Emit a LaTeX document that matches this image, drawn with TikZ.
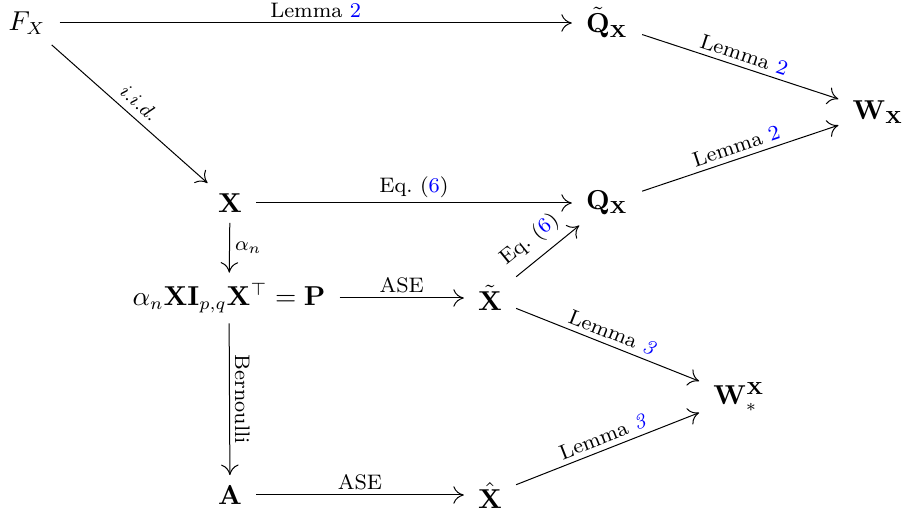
\documentclass[tikz,border=0pt]{standalone}
\usetikzlibrary{arrows.meta}
\begin{document}
\begin{tikzpicture}[x=0.4pt,y=-0.4pt,
  cell/.style={inner xsep=5.5pt,inner ysep=4pt,font=\fontsize{10.5}{12.5}\selectfont},
  arr/.style={-{Computer Modern Rightarrow[length=4.2pt,width=7pt]},line width=0.4pt},
  lab/.style={font=\fontsize{8.4}{10}\selectfont,inner sep=2pt}]
\useasboundingbox (0,0) rectangle (904,510);
\newcommand{\refn}[1]{\textcolor{blue}{#1}}
\node[cell] (FX) at (27,23) {$F_X$};
\node[cell] (QT) at (607,23) {$\tilde{\mathbf{Q}}_{\mathbf{X}}$};
\node[cell] (WX) at (878,112) {$\mathbf{W}_{\mathbf{X}}$};
\node[cell] (X) at (230,203) {$\mathbf{X}$};
\node[cell] (QX) at (607,203) {$\mathbf{Q}_{\mathbf{X}}$};
\node[cell] (P) at (229,298) {$\alpha_n\mathbf{X}\mathbf{I}_{p,q}\mathbf{X}^{\top}=\mathbf{P}$};
\node[cell] (XT) at (490,298) {$\tilde{\mathbf{X}}$};
\node[cell] (WS) at (739,397) {$\mathbf{W}_{*}^{\mathbf{X}}$};
\node[cell] (A) at (230,495) {$\mathbf{A}$};
\node[cell] (XH) at (490,495) {$\hat{\mathbf{X}}$};

\draw[arr] (FX.east) -- (FX.east -| QT.west) node[lab,midway,above] {Lemma \refn{2}};
\draw[arr] (QT) -- (WX) node[lab,midway,above,sloped] {Lemma \refn{2}};
\draw[arr] (QX) -- (WX) node[lab,midway,above,sloped] {Lemma \refn{2}};
\draw[arr] (FX) -- (X) node[lab,midway,above,sloped,inner sep=3pt] {$i.i.d.$};
\draw[arr] (X.east) -- (X.east -| QX.west) node[lab,midway,above] {Eq.~(\refn{6})};
\draw[arr] (X) -- (P) node[lab,midway,right] {$\alpha_n$};
\draw[arr] (P.east) -- (P.east -| XT.west) node[lab,midway,above] {ASE};
\draw[arr] (XT) -- (QX) node[lab,pos=0.42,above,sloped,inner sep=3.5pt] {Eq.~(\refn{6})};
\draw[arr] (XT) -- (WS) node[lab,midway,above,sloped] {Lemma \refn{\textit{3}}};
\draw[arr] (P) -- (A) node[lab,midway,right,rotate=-90,anchor=south] {Bernoulli};
\draw[arr] (A.east) -- (A.east -| XH.west) node[lab,midway,above] {ASE};
\draw[arr] (XH) -- (WS) node[lab,midway,above,sloped] {Lemma \refn{\textit{3}}};
\end{tikzpicture}
\end{document}
